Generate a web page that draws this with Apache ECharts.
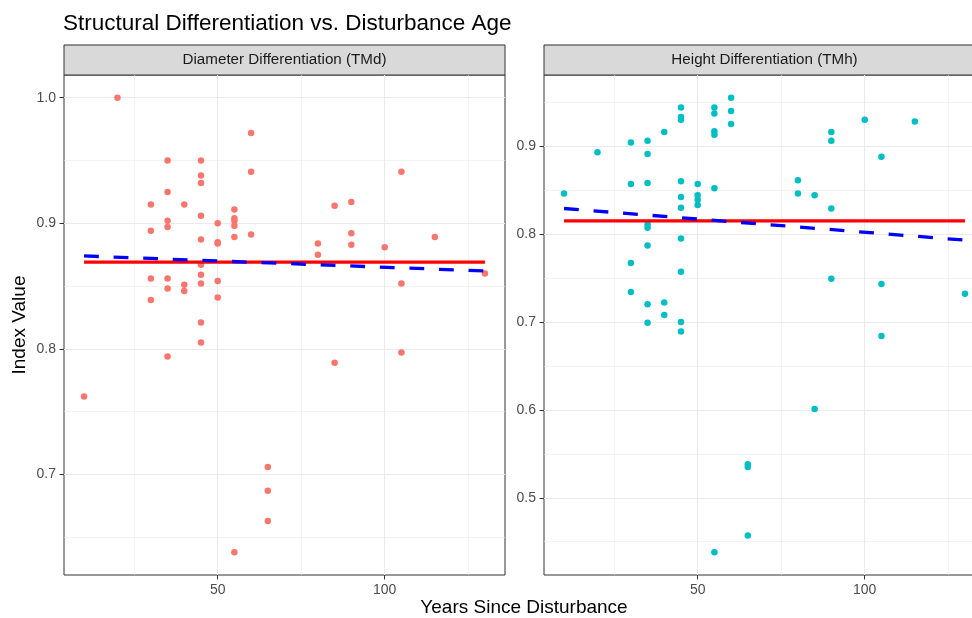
<!DOCTYPE html>
<html>
<head>
<meta charset="utf-8">
<script src="https://cdn.jsdelivr.net/npm/echarts@6/dist/echarts.min.js"></script>
<style>
  html, body { margin: 0; padding: 0; background: #fff; }
  #main { width: 972px; height: 618px; }
</style>
</head>
<body>
<div id="main"></div>
<script>
// 数据：两个分面共用的年份与指数值
var yearsTMd = [10, 20, 30, 30, 30, 30, 35, 35, 35, 35, 35, 35, 35, 40, 40, 40,
  45, 45, 45, 45, 45, 45, 45, 45, 45, 45, 50, 50, 50, 50, 50,
  55, 55, 55, 55, 55, 55, 60, 60, 60, 65, 65, 65, 80, 80, 85, 85,
  90, 90, 90, 100, 105, 105, 105, 115, 130];
var valuesTMd = [0.762, 1.000, 0.915, 0.894, 0.856, 0.839, 0.950, 0.925, 0.902, 0.897, 0.856, 0.848, 0.794, 0.915, 0.851, 0.846,
  0.950, 0.938, 0.932, 0.906, 0.887, 0.867, 0.859, 0.852, 0.821, 0.805, 0.900, 0.885, 0.884, 0.854, 0.841,
  0.911, 0.904, 0.902, 0.898, 0.889, 0.638, 0.972, 0.941, 0.891, 0.706, 0.687, 0.663, 0.884, 0.875, 0.914, 0.789,
  0.917, 0.892, 0.883, 0.881, 0.941, 0.852, 0.797, 0.889, 0.860];

var yearsTMh = [10, 20, 30, 30, 30, 30, 35, 35, 35, 35, 35, 35, 35, 35, 40, 40, 40,
  45, 45, 45, 45, 45, 45, 45, 45, 45, 45, 50, 50, 50, 50,
  55, 55, 55, 55, 55, 55, 60, 60, 60, 65, 65, 65, 80, 80, 85, 85,
  90, 90, 90, 90, 100, 105, 105, 105, 115, 130];
var valuesTMh = [0.846, 0.893, 0.904, 0.857, 0.767, 0.734, 0.906, 0.891, 0.858, 0.811, 0.807, 0.787, 0.720, 0.699, 0.916, 0.722, 0.708,
  0.944, 0.933, 0.930, 0.860, 0.842, 0.830, 0.795, 0.757, 0.700, 0.689, 0.857, 0.844, 0.839, 0.833,
  0.944, 0.937, 0.917, 0.913, 0.852, 0.438, 0.955, 0.940, 0.925, 0.538, 0.535, 0.457, 0.861, 0.846, 0.844, 0.601,
  0.916, 0.906, 0.829, 0.749, 0.930, 0.888, 0.743, 0.684, 0.928, 0.732];

// 参考线（红色为均值，蓝色虚线为线性趋势）
var lineYears = [10, 130];
var meanTMd = 0.869;
var trendTMd = [0.874, 0.862];
var meanTMh = 0.815;
var trendTMh = [0.829, 0.793];

// 刻度
var xMajor = [50, 100];
var xMinor = [25, 75, 125];
var yMajorTMd = [0.7, 0.8, 0.9, 1.0];
var yMinorTMd = [0.65, 0.75, 0.85, 0.95];
var yMajorTMh = [0.5, 0.6, 0.7, 0.8, 0.9];
var yMinorTMh = [0.45, 0.55, 0.65, 0.75, 0.85, 0.95];

var FONT = 'Liberation Sans, Arial, sans-serif';

function zip(xs, ys) {
  return xs.map(function (x, i) { return [x, ys[i]]; });
}
// ggplot 默认 5% 扩展
function expand(arr) {
  var mn = Math.min.apply(null, arr), mx = Math.max.apply(null, arr), d = (mx - mn) * 0.05;
  return [mn - d, mx + d];
}
var xr = expand(yearsTMd.concat(yearsTMh));
var yrTMd = expand(valuesTMd);
var yrTMh = expand(valuesTMh);

function gridLines(idx, yMajor, yMinor) {
  var data = [];
  xMinor.forEach(function (v) { data.push({ xAxis: v, lineStyle: { width: 0.6 } }); });
  yMinor.forEach(function (v) { data.push({ yAxis: v, lineStyle: { width: 0.6 } }); });
  xMajor.forEach(function (v) { data.push({ xAxis: v, lineStyle: { width: 1.1 } }); });
  yMajor.forEach(function (v) { data.push({ yAxis: v, lineStyle: { width: 1.1 } }); });
  return {
    type: 'line', xAxisIndex: idx, yAxisIndex: idx, data: [], silent: true,
    markLine: {
      silent: true, z: 1, animation: false, symbol: ['none', 'none'],
      label: { show: false }, emphasis: { disabled: true },
      lineStyle: { color: '#EBEBEB', type: 'solid' },
      data: data
    }
  };
}

function xAxisOpt(idx) {
  return {
    type: 'value', gridIndex: idx, min: xr[0], max: xr[1],
    axisLine: { show: false },
    axisTick: { show: true, length: 4.5, lineStyle: { color: '#333' }, customValues: xMajor },
    axisLabel: { color: '#4D4D4D', fontSize: 14, fontFamily: FONT, margin: 8, customValues: xMajor },
    splitLine: { show: false }
  };
}
function yAxisOpt(idx, range, major) {
  return {
    type: 'value', gridIndex: idx, min: range[0], max: range[1],
    axisLine: { show: false },
    axisTick: { show: true, length: 4.5, lineStyle: { color: '#333' }, customValues: major },
    axisLabel: { color: '#4D4D4D', fontSize: 14, fontFamily: FONT, margin: 8, customValues: major,
      formatter: function (v) { return v.toFixed(1); } },
    splitLine: { show: false }
  };
}

var myChart = echarts.init(document.getElementById('main'));

var yLeft = yAxisOpt(0, yrTMd, yMajorTMd);
yLeft.name = 'Index Value';
yLeft.nameLocation = 'middle';
yLeft.nameRotate = 90;
yLeft.nameGap = 35;
yLeft.nameTextStyle = { color: '#000', fontSize: 19, fontFamily: FONT };

var option = {
  animation: false,
  backgroundColor: '#fff',
  grid: [
    { left: 64, top: 75, width: 441, height: 500, outerBoundsMode: 'none', containLabel: false,
      show: true, borderColor: '#333', borderWidth: 1, backgroundColor: 'transparent' },
    { left: 544, top: 75, width: 441, height: 500, outerBoundsMode: 'none', containLabel: false,
      show: true, borderColor: '#333', borderWidth: 1, backgroundColor: 'transparent' }
  ],
  xAxis: [xAxisOpt(0), xAxisOpt(1)],
  yAxis: [yLeft, yAxisOpt(1, yrTMh, yMajorTMh)],
  graphic: [
    { type: 'text', x: 63, y: 24, style: { text: 'Structural Differentiation vs. Disturbance Age', fill: '#000', font: '22.5px ' + FONT, textAlign: 'left', textVerticalAlign: 'middle' } },
    { type: 'rect', shape: { x: 64, y: 45, width: 441, height: 30 }, style: { fill: '#D9D9D9', stroke: '#333', lineWidth: 1 } },
    { type: 'text', x: 284.5, y: 60, style: { text: 'Diameter Differentiation (TMd)', fill: '#1A1A1A', font: '15.2px ' + FONT, textAlign: 'center', textVerticalAlign: 'middle' } },
    { type: 'rect', shape: { x: 544, y: 45, width: 441, height: 30 }, style: { fill: '#D9D9D9', stroke: '#333', lineWidth: 1 } },
    { type: 'text', x: 764.5, y: 60, style: { text: 'Height Differentiation (TMh)', fill: '#1A1A1A', font: '15.2px ' + FONT, textAlign: 'center', textVerticalAlign: 'middle' } },
    { type: 'text', x: 524, y: 608, style: { text: 'Years Since Disturbance', fill: '#000', font: '19px ' + FONT, textAlign: 'center', textVerticalAlign: 'middle' } }
  ],
  series: [
    gridLines(0, yMajorTMd, yMinorTMd),
    gridLines(1, yMajorTMh, yMinorTMh),
    {
      type: 'scatter', xAxisIndex: 0, yAxisIndex: 0, z: 2,
      symbolSize: 6.5, itemStyle: { color: '#F8766D', opacity: 1 },
      data: zip(yearsTMd, valuesTMd)
    },
    {
      type: 'scatter', xAxisIndex: 1, yAxisIndex: 1, z: 2,
      symbolSize: 6.5, itemStyle: { color: '#00BFC4', opacity: 1 },
      data: zip(yearsTMh, valuesTMh)
    },
    {
      type: 'line', xAxisIndex: 0, yAxisIndex: 0, z: 3, symbol: 'none',
      lineStyle: { color: '#FF0000', width: 3.3 },
      data: zip(lineYears, [meanTMd, meanTMd])
    },
    {
      type: 'line', xAxisIndex: 1, yAxisIndex: 1, z: 3, symbol: 'none',
      lineStyle: { color: '#FF0000', width: 3.3 },
      data: zip(lineYears, [meanTMh, meanTMh])
    },
    {
      type: 'line', xAxisIndex: 0, yAxisIndex: 0, z: 4, symbol: 'none',
      lineStyle: { color: '#0000FF', width: 3.3, type: [14.8, 14.8] },
      data: zip(lineYears, trendTMd)
    },
    {
      type: 'line', xAxisIndex: 1, yAxisIndex: 1, z: 4, symbol: 'none',
      lineStyle: { color: '#0000FF', width: 3.3, type: [14.8, 14.8] },
      data: zip(lineYears, trendTMh)
    }
  ]
};

myChart.setOption(option);
</script>
</body>
</html>
